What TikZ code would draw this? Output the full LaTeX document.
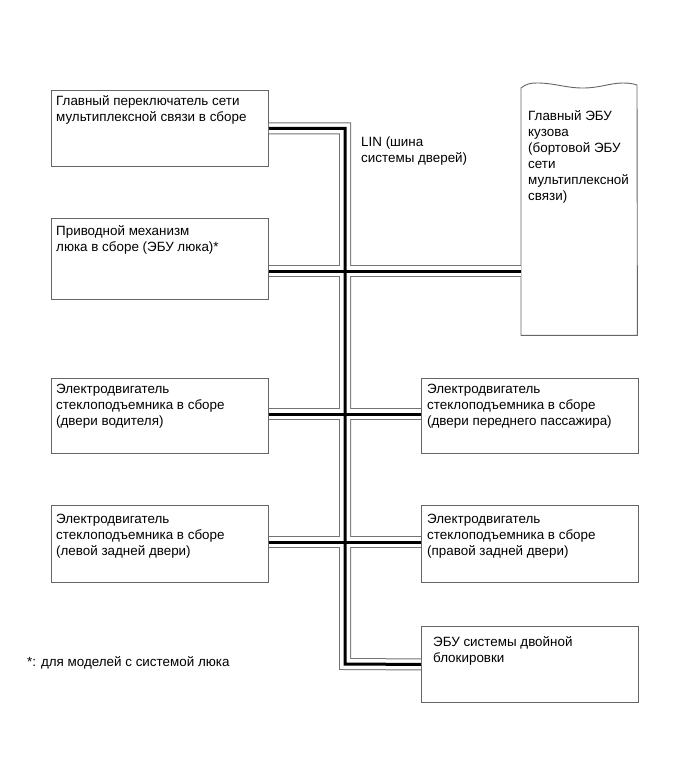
\documentclass[tikz,border=0pt]{standalone}
\usepackage{fontspec}
\setmainfont{Liberation Sans}
\newcommand{\lines}[1]{\begin{tabular}[t]{@{}l@{}}#1\end{tabular}}
\begin{document}
\begin{tikzpicture}[x=1pt,y=-1pt,
  box/.style={draw=black!60, line width=0.9pt, minimum width=217pt, minimum height=#1, inner sep=0pt, anchor=north west},
  txt/.style={anchor=base west, inner sep=0pt, font=\fontsize{13.4}{16}\selectfont},
  busA/.style={draw=black!55, line width=12pt},
  busB/.style={draw=white, line width=10pt},
  busC/.style={draw=black, line width=3pt},
  eculine/.style={draw=black!60, line width=0.9pt, line join=round}
]
\useasboundingbox[fill=white] (0,0) rectangle (690,759);

% boxes
\node[box=76pt] (b1) at (51,90) {};
\node[box=81pt] (b2) at (51,218) {};
\node[box=75pt] (b3) at (51,378) {};
\node[box=77pt] (b4) at (51,505) {};
\node[box=75pt] (b5) at (421,378) {};
\node[box=77pt] (b6) at (421,505) {};
\node[box=76pt] (b7) at (421,626) {};
\node[anchor=north west, minimum width=116pt, minimum height=250pt, inner sep=0pt] (ecu) at (521,85) {};

% ECU outline with torn top
\draw[eculine] (ecu.south west) -- (521,88)
  .. controls (526,84) and (530,83) .. (537,83)
  .. controls (555,83) and (565,88) .. (583,88)
  .. controls (600,88) and (610,83) .. (623,83)
  .. controls (630,83) and (634,84) .. (637,85)
  -- (ecu.south east) -- cycle;

% bus coordinates
\coordinate (vb) at (345,664);
\coordinate (h2) at (345,271);
\coordinate (h3) at (345,414);
\coordinate (h4) at (345,542);

\foreach \st in {busA,busB,busC}{
  \draw[\st] (b1.east) -| (vb) -- (b7.west);
  \draw[\st] (b2.east |- h2) -- (ecu.west |- h2);
  \draw[\st] (b3.east |- h3) -- (b5.west |- h3);
  \draw[\st] (b4.east |- h4) -- (b6.west |- h4);
}

% texts
\node[txt] (t1) at (56,106) {\lines{Главный переключатель сети\\мультиплексной связи в сборе}};
\node[txt] (t2) at (56,235) {\lines{Приводной механизм\\люка в сборе (ЭБУ люка)*}};
\node[txt] (t3) at (56,393) {\lines{Электродвигатель\\стеклоподъемника в сборе\\(двери водителя)}};
\node[txt] (t4) at (56,523) {\lines{Электродвигатель\\стеклоподъемника в сборе\\(левой задней двери)}};
\node[txt] (t5) at (427,393) {\lines{Электродвигатель\\стеклоподъемника в сборе\\(двери переднего пассажира)}};
\node[txt] (t6) at (427,523) {\lines{Электродвигатель\\стеклоподъемника в сборе\\(правой задней двери)}};
\node[txt] (t7) at (433,646) {\lines{ЭБУ системы двойной\\блокировки}};
\node[txt] (te) at (528,121) {\lines{Главный ЭБУ\\кузова\\(бортовой ЭБУ\\сети\\мультиплексной\\связи)}};
\node[txt] (tl) at (361,147) {\lines{LIN (шина\\системы дверей)}};
\node[txt] (tf) at (27,666) {*: для моделей с системой люка};
\end{tikzpicture}
\end{document}
